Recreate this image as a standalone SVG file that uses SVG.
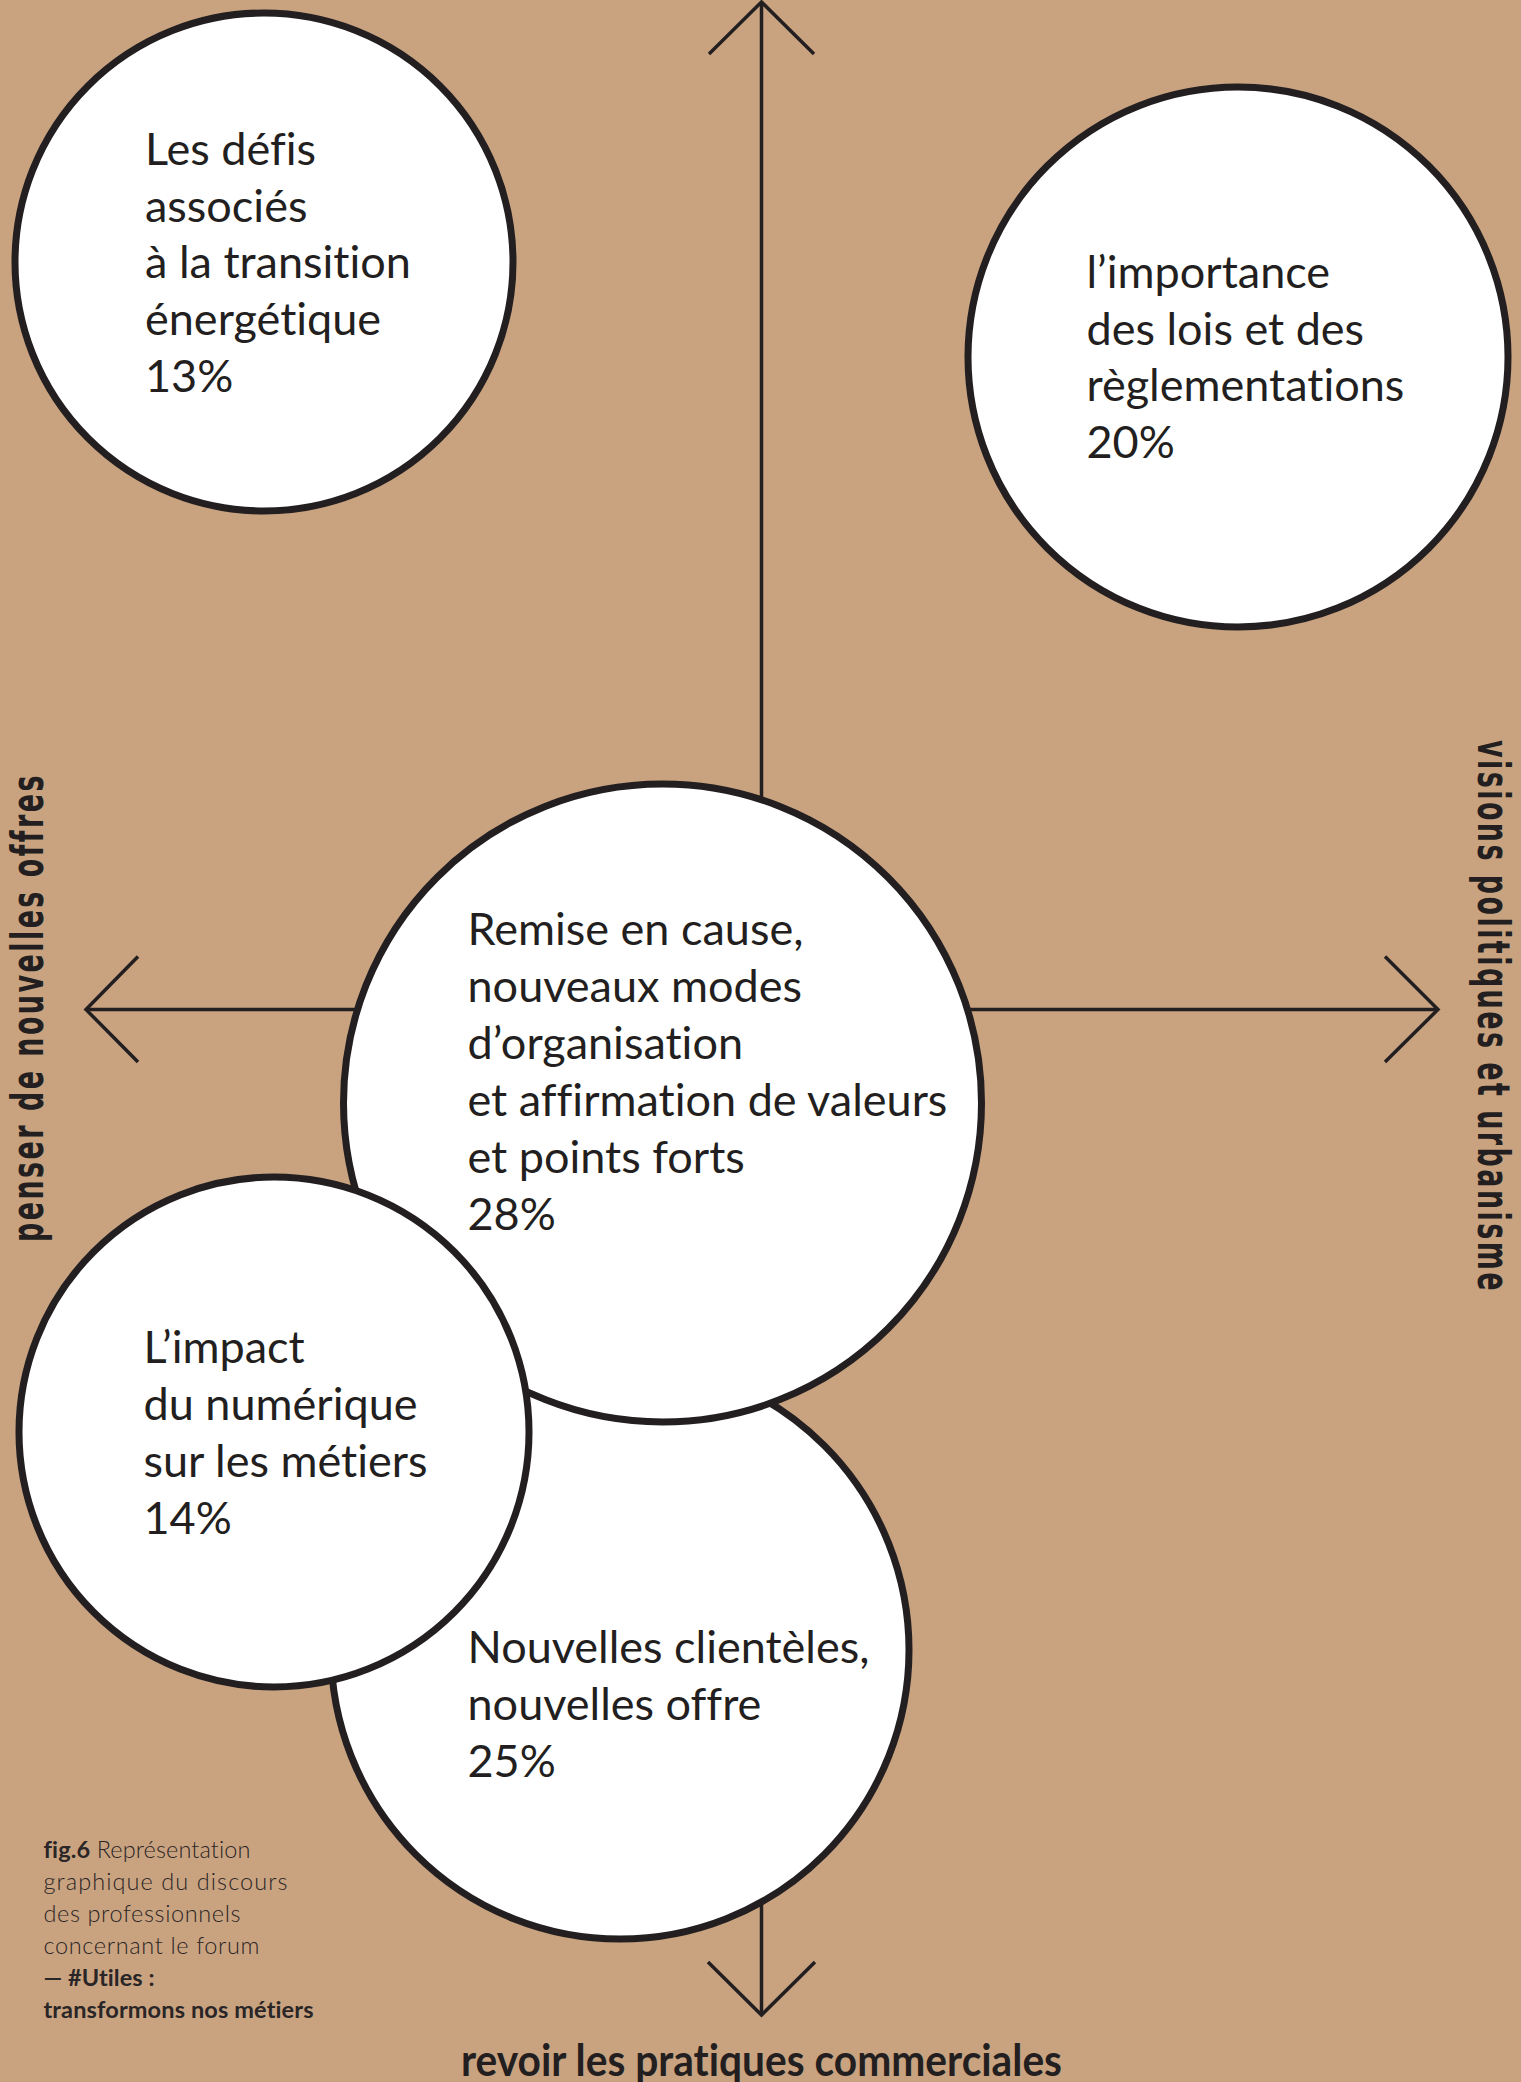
<svg xmlns="http://www.w3.org/2000/svg" width="1521" height="2082" viewBox="0 0 1521 2082">
<style>
.bg{fill:#C9A380}
.axis{stroke:#231F20;stroke-width:3.5;fill:none;stroke-linecap:butt}
.head{stroke:#231F20;stroke-width:3.5;fill:none;stroke-linejoin:miter}
.bub{fill:#FFFFFF;stroke:#231F20;stroke-width:7}
text{font-variant-ligatures:none}
.t{font-family:Lato,"Liberation Sans",sans-serif;font-size:45px;fill:#231F20}
.lab{font-family:"DejaVu Sans","Liberation Sans",sans-serif;font-weight:bold;font-size:44px;letter-spacing:4px;fill:#231F20}
.blab{font-family:Lato,"Liberation Sans",sans-serif;font-weight:bold;font-size:43px;fill:#231F20}
.cap{font-family:Lato,"Liberation Sans",sans-serif;font-weight:300;font-size:23.5px;fill:#2A2526}
.capb{font-weight:bold}
</style>
<rect class="bg" x="0" y="0" width="1521" height="2082"/>
<g id="connectors">
  <line class="axis" x1="761.5" y1="2" x2="761.5" y2="2015"/>
  <line class="axis" x1="86" y1="1009.5" x2="1438" y2="1009.5"/>
  <polyline class="head" points="709,54 761.5,2 814,54"/>
  <polyline class="head" points="708,1962 761.5,2015 815,1962"/>
  <polyline class="head" points="138,956.5 86,1009.5 138,1062"/>
  <polyline class="head" points="1385,956.5 1438,1009.5 1385,1062"/>
</g>
<g id="node-defis">
  <circle class="bub" cx="264" cy="262" r="249"/>
  <text class="t" x="145" y="165">Les défis</text>
  <text class="t" x="145" y="221.7">associés</text>
  <text class="t" x="145" y="278.4">à la transition</text>
  <text class="t" x="145" y="335.1">énergétique</text>
  <text class="t" x="145" y="391.8">13%</text>
</g>
<g id="node-lois">
  <circle class="bub" cx="1238" cy="357" r="270"/>
  <text class="t" x="1086.5" y="288">l’importance</text>
  <text class="t" x="1086.5" y="344.7">des lois et des</text>
  <text class="t" x="1086.5" y="401.4">règlementations</text>
  <text class="t" x="1086.5" y="458.1">20%</text>
</g>
<g id="node-clienteles">
  <circle class="bub" cx="620" cy="1650" r="289"/>
  <text class="t" x="467.5" y="1663">Nouvelles clientèles,</text>
  <text class="t" x="467.5" y="1720">nouvelles offre</text>
  <text class="t" x="467.5" y="1777">25%</text>
</g>
<g id="node-remise">
  <circle class="bub" cx="662.5" cy="1103" r="319"/>
  <text class="t" x="467.5" y="945">Remise en cause,</text>
  <text class="t" x="467.5" y="1002">nouveaux modes</text>
  <text class="t" x="467.5" y="1059">d’organisation</text>
  <text class="t" x="467.5" y="1116">et affirmation de valeurs</text>
  <text class="t" x="467.5" y="1173">et points forts</text>
  <text class="t" x="467.5" y="1230">28%</text>
</g>
<g id="node-numerique">
  <circle class="bub" cx="274" cy="1432" r="255"/>
  <text class="t" x="143.5" y="1363">L’impact</text>
  <text class="t" x="143.5" y="1420">du numérique</text>
  <text class="t" x="143.5" y="1477">sur les métiers</text>
  <text class="t" x="143.5" y="1534">14%</text>
</g>
<g id="labels">
  <text class="lab" transform="translate(43,1242) rotate(-90)" textLength="469" lengthAdjust="spacingAndGlyphs">penser de nouvelles offres</text>
  <text class="lab" transform="translate(1478,740) rotate(90)" textLength="553" lengthAdjust="spacingAndGlyphs">visions politiques et urbanisme</text>
  <text class="blab" x="461" y="2076" textLength="601" lengthAdjust="spacingAndGlyphs">revoir les pratiques commerciales</text>
</g>
<g id="caption">
  <text class="cap" x="43.5" y="1858" textLength="207"><tspan class="capb">fig.6</tspan> Représentation</text>
  <text class="cap" x="43.5" y="1890" textLength="244">graphique du discours</text>
  <text class="cap" x="43.5" y="1922" textLength="197">des professionnels</text>
  <text class="cap" x="43.5" y="1954" textLength="216">concernant le forum</text>
  <text class="cap capb" x="43.5" y="1986" textLength="111">— #Utiles :</text>
  <text class="cap capb" x="43.5" y="2018" textLength="270">transformons nos métiers</text>
</g>
</svg>
